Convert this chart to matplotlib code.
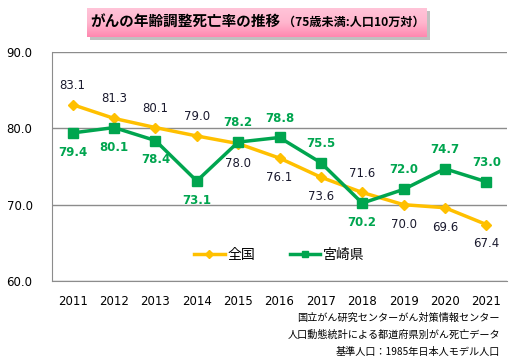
import matplotlib.pyplot as plt
import matplotlib.patches as mpatches
from matplotlib.colors import LinearSegmentedColormap
import numpy as np

plt.rcParams['font.family'] = ['Noto Sans CJK JP', 'DejaVu Sans']

years = ['2011', '2012', '2013', '2014', '2015', '2016', '2017', '2018', '2019', '2020', '2021']
national = [83.1, 81.3, 80.1, 79.0, 78.0, 76.1, 73.6, 71.6, 70.0, 69.6, 67.4]
miyazaki = [79.4, 80.1, 78.4, 73.1, 78.2, 78.8, 75.5, 70.2, 72.0, 74.7, 73.0]
# label above (+1) or below (-1) the point
national_pos = [1, 1, 1, 1, -1, -1, -1, 1, -1, -1, -1]
miyazaki_pos = [-1, -1, -1, -1, 1, 1, 1, -1, 1, 1, 1]

yellow = '#FFC000'
green = '#00A54F'

fig = plt.figure(figsize=(5.29, 3.61), dpi=100)

# background axes in pixel units for the title box
bg = fig.add_axes([0, 0, 1, 1], zorder=-1)
bg.add_patch(mpatches.Rectangle((90, 11), 340, 29, color='#c0c0c0', lw=0, zorder=1))
cmap = LinearSegmentedColormap.from_list('pink', ['#FFC4D8', '#FFB6CE', '#FF88B0'])
bg.imshow(np.linspace(0, 1, 50).reshape(-1, 1), aspect='auto', cmap=cmap,
          extent=[87, 427, 37, 8], interpolation='bilinear', zorder=2)
bg.set_xlim(0, 529)
bg.set_ylim(361, 0)
bg.set_axis_off()

ax = fig.add_axes([52/529, 1 - 281/361, 455/529, 229/361])

x = np.arange(len(years))
ax.plot(x, national, color=yellow, lw=2.5, marker='D', ms=5, label='全国', zorder=3)
ax.plot(x, miyazaki, color=green, lw=2.5, marker='s', ms=6.5, label='宮崎県', zorder=4)

for i in range(len(years)):
    ax.annotate(f'{national[i]:.1f}', (x[i], national[i]), xytext=(0, 14 * national_pos[i]),
                textcoords='offset points', ha='center', va='center', fontsize=8.5,
                color='#1a1a2e', family='DejaVu Sans')
    ax.annotate(f'{miyazaki[i]:.1f}', (x[i], miyazaki[i]), xytext=(0, 14 * miyazaki_pos[i]),
                textcoords='offset points', ha='center', va='center', fontsize=8.5,
                color=green, fontweight='bold', family='DejaVu Sans')

ax.set_xlim(-0.5, 10.5)
ax.set_ylim(60, 90)
ax.set_yticks([60, 70, 80, 90])
ax.set_yticklabels(['60.0', '70.0', '80.0', '90.0'], family='DejaVu Sans', fontsize=8.5)
ax.set_xticks(x)
ax.set_xticklabels(years, family='DejaVu Sans', fontsize=8.5)
ax.tick_params(length=0, pad=10)
ax.tick_params(axis='y', pad=14)
ax.grid(axis='y', color='#8c8c8c', lw=1)
ax.set_axisbelow(True)
ax.patch.set_alpha(0)
for s in ['top', 'right']:
    ax.spines[s].set_visible(False)
for s in ['left', 'bottom']:
    ax.spines[s].set_color('#8c8c8c')

ax.legend(loc='lower center', bbox_to_anchor=(0.5, 0.03), ncol=2, frameon=False,
          fontsize=10, handlelength=2.2, columnspacing=2.5, handletextpad=0.2,
          markerscale=0.75)

fig.text(90/529, 1 - 22/361, 'がんの年齢調整死亡率の推移', fontsize=10.5, fontweight='bold',
         va='center', ha='left')
fig.text(283/529, 1 - 22/361, '（75歳未満:人口10万対）', fontsize=8.7, fontweight='bold',
         va='center', ha='left')

notes = ['国立がん研究センターがん対策情報センター',
         '人口動態統計による都道府県別がん死亡データ',
         '基準人口：1985年日本人モデル人口']
for k, t in enumerate(notes):
    fig.text(500/529, 1 - (318 + 17 * k)/361, t, fontsize=7.3, ha='right', va='center')

fig.savefig('out.png', dpi=100)
